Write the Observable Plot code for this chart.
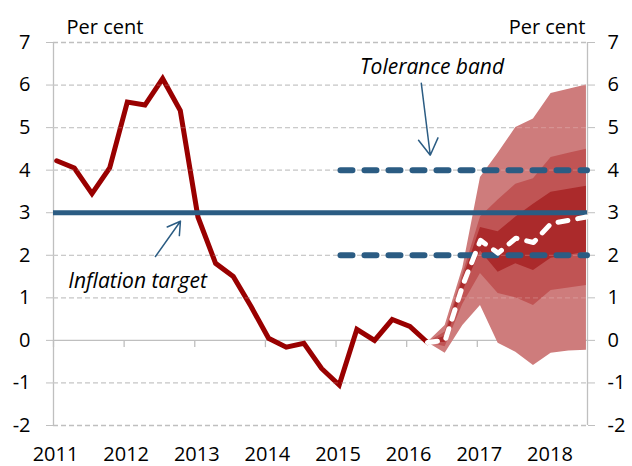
<!DOCTYPE html>
<html><head><meta charset="utf-8">
<script src="https://cdn.jsdelivr.net/npm/d3@7"></script>
<script src="https://cdn.jsdelivr.net/npm/@observablehq/plot@0.6"></script>
<style>
html,body{margin:0;padding:0;background:#fff;}
#chart{width:632px;height:466px;}
</style></head><body><div id="chart"></div>
<script>
// Quarterly observations, first quarter 2011 (index 0) to 2016 Q2 (index 21)
const startYear = 2011;
const actual = [4.22, 4.05, 3.45, 4.05, 5.6, 5.53, 6.15, 5.4, 2.9, 1.81, 1.5, 0.8,
                0.05, -0.16, -0.07, -0.66, -1.05, 0.26, 0.0, 0.49, 0.33, -0.05];
// Projection, quarters index 21..30
const forecastStart = 21;
const forecast = [-0.05, 0.0, 1.3, 2.35, 2.05, 2.4, 2.3, 2.75, 2.82, 2.9];
const outerHi  = [-0.05, 0.35, 1.7, 3.83, 4.4, 5.0, 5.2, 5.8, 5.9, 6.0];
const outerLo  = [-0.05, -0.3, 0.35, 0.82, -0.07, -0.28, -0.59, -0.3, -0.25, -0.23];
const midHi    = [-0.05, 0.2, 1.55, 2.9, 3.3, 3.67, 3.8, 4.3, 4.4, 4.49];
const midLo    = [-0.05, -0.15, 0.85, 1.57, 1.1, 1.0, 0.82, 1.17, 1.23, 1.29];
const innerHi  = [-0.05, 0.1, 1.45, 2.65, 2.55, 2.9, 3.2, 3.48, 3.55, 3.62];
const innerLo  = [-0.05, -0.05, 1.15, 2.1, 1.6, 1.8, 1.64, 1.93, 2.0, 2.07];

const inflationTarget = 3;
const toleranceBand = [2, 4];
const toleranceFrom = 2015.07;
const xEnd = 2018.56;

const yearTicks = [2011, 2012, 2013, 2014, 2015, 2016, 2017, 2018];
const yTicks = [-2, -1, 0, 1, 2, 3, 4, 5, 6, 7];

// Annotation anchor points (data coordinates)
const targetLabel = [{text: "Inflation target", x: 2011.21, y: 1.22}];
const bandLabel = [{text: "Tolerance band", x: 2016.36, y: 6.27}];
const arrows = [
  {x1: 2012.443, y1: 1.97, x2: 2012.797, y2: 2.80},
  {x1: 2016.207, y1: 6.04, x2: 2016.334, y2: 4.35}
];

const qx = i => startYear + 0.045 + i / 4;
const actualData = actual.map((v, i) => ({x: qx(i), y: v}));
const fanData = forecast.map((v, k) => ({
  x: qx(forecastStart + k), y: v,
  oHi: outerHi[k], oLo: outerLo[k], mHi: midHi[k], mLo: midLo[k], iHi: innerHi[k], iLo: innerLo[k]
}));

const grey = "#bfbfbf";
const blue = "#2b5c83";

const chart = Plot.plot({
  width: 632, height: 466,
  marginTop: 42, marginBottom: 41, marginLeft: 53, marginRight: 45,
  style: {fontFamily: "'Open Sans', sans-serif", fontSize: "20px", color: "#000", background: "#fff"},
  x: {domain: [startYear, xEnd]},
  y: {domain: [-2, 7]},
  marks: [
    Plot.gridY(yTicks.filter(d => d !== 0), {stroke: grey, strokeOpacity: 1, strokeWidth: 1.3, strokeDasharray: "5,3"}),
    Plot.ruleY([0], {stroke: grey, strokeWidth: 1.3}),
    Plot.ruleX([startYear, xEnd], {stroke: grey, strokeWidth: 1.3}),
    Plot.ruleX(yearTicks, {x: d => d, y1: 0, y2: -0.17, stroke: grey, strokeWidth: 1.3}),
    Plot.axisY(yTicks, {anchor: "left", tickSize: 7, tickPadding: 16, stroke: grey, fill: "#000", tickFormat: d => String(d), label: null}),
    Plot.axisY(yTicks, {anchor: "right", tickSize: 7, tickPadding: 13, stroke: grey, fill: "#000", tickFormat: d => String(d), label: null}),
    Plot.axisX(yearTicks, {anchor: "bottom", tickSize: 0, tickPadding: 21, dx: 2, fill: "#000", tickFormat: d => String(d), label: null}),
    Plot.line(actualData, {x: "x", y: "y", stroke: "#990000", strokeWidth: 5, strokeLinejoin: "miter", strokeMiterlimit: 3}),
    Plot.areaY(fanData, {x: "x", y1: "oLo", y2: "oHi", fill: "#ce7c7c"}),
    Plot.areaY(fanData, {x: "x", y1: "mLo", y2: "mHi", fill: "#c05454"}),
    Plot.areaY(fanData, {x: "x", y1: "iLo", y2: "iHi", fill: "#ab2a2b"}),
    Plot.gridY(yTicks.filter(d => d !== 0 && d !== 7 && d !== -2), {stroke: "#ffffff", strokeOpacity: 0.18, strokeWidth: 1.3, strokeDasharray: "5,3"}),
    Plot.ruleY([inflationTarget], {x1: startYear, x2: xEnd, stroke: blue, strokeWidth: 5}),
    Plot.ruleY(toleranceBand, {x1: toleranceFrom, x2: xEnd, stroke: blue, strokeWidth: 6, strokeDasharray: "12,12", strokeLinecap: "round"}),
    Plot.line(fanData, {x: "x", y: "y", stroke: "#ffffff", strokeWidth: 5, strokeDasharray: "10,10", strokeLinecap: "round"}),
    Plot.arrow(arrows, {x1: "x1", y1: "y1", x2: "x2", y2: "y2", stroke: blue, strokeWidth: 1.5, headLength: 19, headAngle: 62}),
    Plot.text(targetLabel, {x: "x", y: "y", text: "text", textAnchor: "start", lineAnchor: "bottom", fontStyle: "italic", fontSize: 21, fill: "#000"}),
    Plot.text(bandLabel, {x: "x", y: "y", text: "text", textAnchor: "middle", lineAnchor: "bottom", fontStyle: "italic", fontSize: 21, fill: "#000"}),
    Plot.text(["Per cent"], {frameAnchor: "top-left", dx: 13, dy: -9, lineAnchor: "bottom", textAnchor: "start", fontSize: 20, fill: "#000"}),
    Plot.text(["Per cent"], {frameAnchor: "top-right", dx: -2, dy: -9, lineAnchor: "bottom", textAnchor: "end", fontSize: 20, fill: "#000"})
  ]
});
document.getElementById("chart").appendChild(chart);
</script>
</body></html>
